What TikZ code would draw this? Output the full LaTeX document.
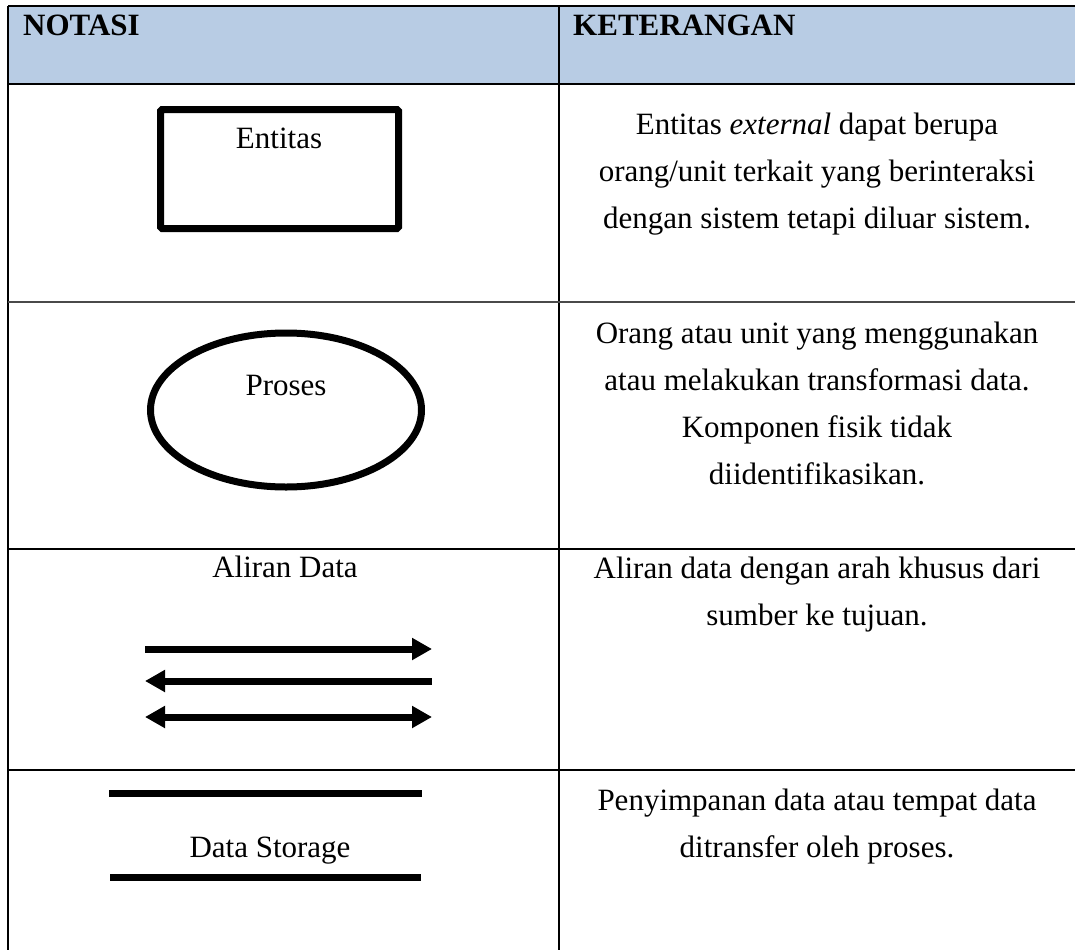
\documentclass[tikz,border=0pt]{standalone}
\usepackage{fontspec}
\setmainfont{Liberation Serif}
\usetikzlibrary{arrows.meta,shapes.geometric}
\definecolor{headfill}{HTML}{B8CCE4}
\definecolor{rulegray}{HTML}{4A4A4A}
\newcommand\bodysize{\fontsize{31}{47}\selectfont}
\begin{document}
\begin{tikzpicture}[x=1pt,y=-1pt,
  font=\bodysize,
  rule/.style={line width=1.5pt,draw=black},
  softrule/.style={line width=1.5pt,draw=rulegray},
  head/.style={font=\bodysize\bfseries,inner sep=0pt,anchor=base west},
  lbl/.style={inner sep=0pt,anchor=base},
  cell/.style={align=center,inner sep=0pt},
  symbol/.style={draw=black,line width=7pt,inner sep=0pt},
  flow/.style={line width=7pt},
  >={Triangle[length=20pt,width=21pt]}]
\useasboundingbox (0,0) rectangle (1075,950);

% header band and table rules
\fill[headfill] (8,6) rectangle (1075,84);
\draw[rule] (8,6) -- (1075,6);
\draw[rule] (8,84) -- (1075,84);
\draw[rule] (8,6) -- (8,950);
\draw[rule] (559,6) -- (559,950);
\draw[softrule] (8,302) -- (1075,302);
\draw[rule] (8,549) -- (1075,549);
\draw[rule] (8,770) -- (1075,770);

% column headings
\node[head] (hnot) at (23,36) {NOTASI};
\node[head] (hket) at (573,36) {KETERANGAN};

% external entity
\node[symbol,rounded corners=1.5pt,minimum width=238pt,minimum height=119pt] (entbox) at (279.5,169) {};
\node[lbl] (entlbl) at (279,148) {Entitas};
\node[cell] (entdesc) at (817,174) {Entitas \textit{external} dapat berupa\\orang/unit terkait yang berinteraksi\\dengan sistem tetapi diluar sistem.};

% process
\node[symbol,ellipse,minimum width=271pt,minimum height=154pt] (procshape) at (286,410) {};
\node[lbl] (proclbl) at (286,395) {Proses};
\node[cell] (procdesc) at (817,403) {Orang atau unit yang menggunakan\\atau melakukan transformasi data.\\Komponen fisik tidak\\diidentifikasikan.};

% data flows
\node[lbl] (flowlbl) at (285,577) {Aliran Data};
\coordinate (f1a) at (145,649); \coordinate (f1b) at (432,649);
\coordinate (f2a) at (145,681); \coordinate (f2b) at (432,681);
\coordinate (f3a) at (145,717); \coordinate (f3b) at (432,717);
\draw[flow,->] (f1a) -- (f1b);
\draw[flow,<-] (f2a) -- (f2b);
\draw[flow,<->] (f3a) -- (f3b);
\node[cell] (flowdesc) at (817,595) {Aliran data dengan arah khusus dari\\sumber ke tujuan.};

% data storage
\coordinate (s1a) at (109,793); \coordinate (s1b) at (422,793);
\coordinate (s2a) at (110,877); \coordinate (s2b) at (421,877);
\draw[line width=7pt] (s1a) -- (s1b);
\draw[line width=7pt] (s2a) -- (s2b);
\node[lbl] (storelbl) at (270,857) {Data Storage};
\node[cell] (storedesc) at (817,827) {Penyimpanan data atau tempat data\\ditransfer oleh proses.};
\end{tikzpicture}
\end{document}
